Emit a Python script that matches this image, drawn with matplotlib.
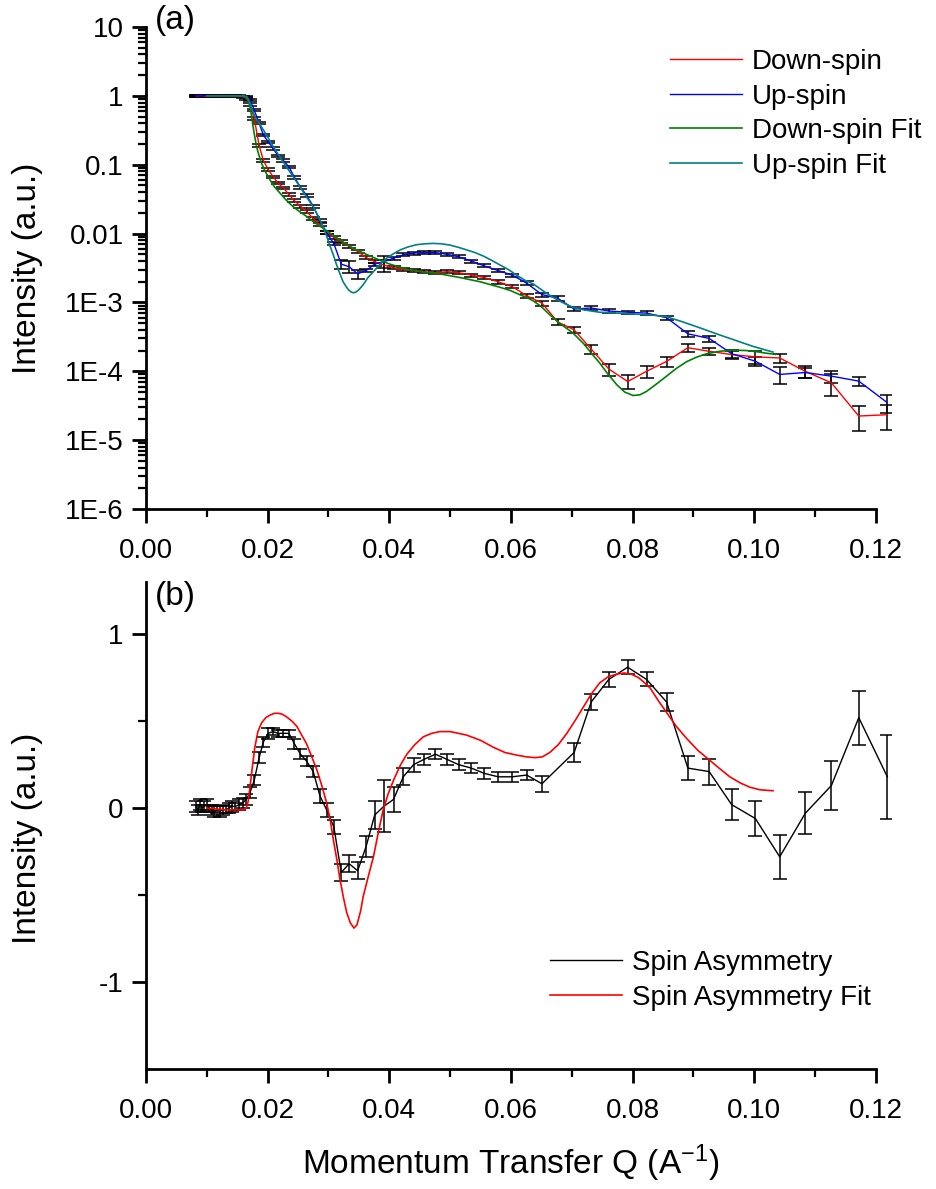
import numpy as np
import matplotlib
matplotlib.use("Agg")
import matplotlib.pyplot as plt
from matplotlib.ticker import FixedLocator, FixedFormatter, LogLocator, NullFormatter
from matplotlib.lines import Line2D

plt.rcParams['font.family'] = ['Liberation Sans', 'DejaVu Sans']
plt.rcParams['mathtext.fontset'] = 'custom'
plt.rcParams['mathtext.rm'] = 'Liberation Sans'
plt.rcParams['mathtext.default'] = 'regular'

# ---------------- data ----------------
# momentum transfer Q (1/A)
q = [0.0082, 0.0085, 0.0089, 0.0092, 0.0096, 0.0100, 0.0104, 0.0108, 0.0112,
     0.0116, 0.0121, 0.0126, 0.0131, 0.0136, 0.0141, 0.0147, 0.0153, 0.0159,
     0.0165, 0.0171, 0.0178, 0.0186, 0.0193, 0.0201, 0.0209, 0.0217, 0.0226, 0.0235,
     0.0244, 0.0254, 0.0264, 0.0275, 0.0286, 0.0297, 0.0309, 0.0321, 0.0334, 0.0348,
     0.0362, 0.0376, 0.0391, 0.0407, 0.0423, 0.0440, 0.0457, 0.0476, 0.0495, 0.0514,
     0.0535, 0.0556, 0.0579, 0.0602, 0.0626, 0.0651, 0.0677, 0.0704, 0.0732, 0.0761,
     0.0792, 0.0823, 0.0856, 0.0891, 0.0926, 0.0963, 0.1002, 0.1042, 0.1084, 0.1127,
     0.1172, 0.1219]

# reflectivity, down-spin
r_down = [1.00, 0.99, 1.00, 1.01, 0.99, 1.00, 1.00, 0.99, 1.01,
          1.00, 0.99, 1.00, 1.00, 0.99, 1.00, 0.99, 0.98, 0.97,
          0.92, 0.75, 0.47, 0.19, 0.115, 0.085, 0.067, 0.054, 0.046, 0.037,
          0.030, 0.025, 0.021, 0.0165, 0.0134, 0.0105, 0.0088, 0.0077, 0.0065, 0.0055,
          0.0045, 0.0039, 0.0035, 0.0032, 0.0030, 0.0029, 0.0028, 0.0027, 0.0028, 0.0027,
          0.0025, 0.0023, 0.0020, 0.0017, 0.00125, 0.00098, 0.00052, 0.00040, 0.00021, 0.000108,
          0.000071, 0.000100, 0.000139, 0.00022, 0.000195, 0.000175, 0.000162, 0.000156, 0.000100, 0.000068,
          0.0000224, 0.0000234]

# reflectivity, up-spin
r_up = [1.00, 1.00, 0.99, 1.00, 1.01, 1.00, 0.99, 1.00, 1.00,
        1.01, 1.00, 0.99, 1.00, 1.00, 1.01, 1.00, 0.99, 0.98,
        0.96, 0.88, 0.62, 0.40, 0.27, 0.215, 0.172, 0.135, 0.115, 0.093,
        0.066, 0.047, 0.036, 0.025, 0.0155, 0.0103, 0.0071, 0.0036, 0.0033, 0.0026,
        0.0029, 0.0036, 0.0039, 0.0044, 0.0049, 0.0052, 0.0053, 0.0053, 0.0050, 0.0046,
        0.0040, 0.0034, 0.0029, 0.0025, 0.0019, 0.0013, 0.00115, 0.00080, 0.00083, 0.00075,
        0.00072, 0.00070, 0.00060, 0.00035, 0.00030, 0.00018, 0.000140, 0.000090, 0.000096, 0.000085,
        0.000072, 0.000035]

# relative uncertainties
rel_err_down = [0.03] * 18 + \
    [0.04] * 10 + \
    [0.05] * 10 + \
    [0.05, 0.05, 0.20, 0.05, 0.05, 0.05, 0.05, 0.05, 0.05, 0.05] + \
    [0.05, 0.05, 0.06, 0.06, 0.07, 0.08, 0.10, 0.10, 0.16, 0.20] + \
    [0.23, 0.20, 0.16, 0.12, 0.12, 0.14, 0.20, 0.15, 0.20, 0.35] + \
    [0.40, 0.40]
rel_err_up = [0.03] * 18 + \
    [0.04] * 10 + \
    [0.05, 0.05, 0.05, 0.05, 0.05, 0.05, 0.05, 0.15, 0.20, 0.15] + \
    [0.05, 0.05, 0.20, 0.05, 0.05, 0.05, 0.05, 0.05, 0.05, 0.05] + \
    [0.05, 0.05, 0.05, 0.05, 0.06, 0.07, 0.08, 0.06, 0.06, 0.06] + \
    [0.06, 0.06, 0.06, 0.10, 0.10, 0.14, 0.15, 0.28, 0.18, 0.20] + \
    [0.15, 0.30]

# fitted reflectivity, down-spin
q_fit_down = [0.0100, 0.0130, 0.0160, 0.0163, 0.0166, 0.0168, 0.0171, 0.0173, 0.0176, 0.0179,
              0.0182, 0.0186, 0.0190, 0.0196, 0.0204, 0.0211, 0.0220, 0.0230, 0.0242, 0.0252,
              0.0264, 0.0277, 0.0291, 0.0305, 0.0319, 0.0332, 0.0346, 0.0360, 0.0374, 0.0388,
              0.0401, 0.0425, 0.0450, 0.0483, 0.0516, 0.0549, 0.0582, 0.0600, 0.0615, 0.0627,
              0.0637, 0.0650, 0.0664, 0.0680, 0.0690, 0.0702, 0.0720, 0.0733, 0.0746, 0.0760,
              0.0774, 0.0787, 0.0801, 0.0812, 0.0823, 0.0840, 0.0856, 0.0872, 0.0889, 0.0905,
              0.0922, 0.0940, 0.0955, 0.0972, 0.0988, 0.1005, 0.1020, 0.1035]
r_fit_down = [1.0, 1.0, 0.99, 0.97, 0.93, 0.85, 0.70, 0.55, 0.36, 0.25,
              0.18, 0.135, 0.105, 0.080, 0.060, 0.048, 0.039, 0.031, 0.0245, 0.021,
              0.0178, 0.0145, 0.012, 0.0098, 0.0081, 0.0068, 0.0058, 0.0051, 0.0045, 0.0040,
              0.0036, 0.0031, 0.0028, 0.0026, 0.0023, 0.0020, 0.00166, 0.00148, 0.00129, 0.00117,
              0.00105, 0.00087, 0.00066, 0.00050, 0.00043, 0.00036, 0.00025, 0.00018, 0.000132, 0.000090,
              0.000064, 0.000050, 0.0000445, 0.0000455, 0.000051, 0.000066, 0.000085, 0.000110, 0.000138, 0.000160,
              0.000180, 0.000193, 0.000200, 0.000202, 0.000200, 0.000192, 0.000183, 0.000176]

# fitted reflectivity, up-spin
q_fit_up = [0.0100, 0.0160, 0.0163, 0.0166, 0.0168, 0.0171, 0.0175, 0.0179, 0.0186, 0.0193,
            0.0201, 0.0209, 0.0220, 0.0231, 0.0242, 0.0253, 0.0264, 0.0275, 0.0283, 0.0291,
            0.0297, 0.0302, 0.0308, 0.0313, 0.0319, 0.0324, 0.0329, 0.0333, 0.0337, 0.0341,
            0.0345, 0.0349, 0.0353, 0.0357, 0.0365, 0.0374, 0.0385, 0.0396, 0.0407, 0.0418,
            0.0431, 0.0445, 0.0458, 0.0472, 0.0486, 0.0500, 0.0514, 0.0527, 0.0541, 0.0555,
            0.0568, 0.0582, 0.0596, 0.0609, 0.0623, 0.0637, 0.0648, 0.0659, 0.0670, 0.0680,
            0.0691, 0.0702, 0.0720, 0.0746, 0.0775, 0.0800, 0.0830, 0.0856, 0.0883, 0.0910,
            0.0938, 0.0965, 0.0998, 0.1031]
r_fit_up = [1.0, 1.0, 0.99, 0.97, 0.90, 0.78, 0.62, 0.50, 0.40, 0.32,
            0.245, 0.185, 0.13, 0.093, 0.067, 0.048, 0.034, 0.0245, 0.018, 0.0126,
            0.0092, 0.0068, 0.0049, 0.0036, 0.0026, 0.0020, 0.0017, 0.00152, 0.00142, 0.00138,
            0.00141, 0.00150, 0.00164, 0.0018, 0.0023, 0.0028, 0.0036, 0.0044, 0.0051, 0.0058,
            0.0064, 0.0069, 0.0071, 0.0072, 0.0071, 0.0068, 0.0063, 0.0058, 0.0053, 0.0047,
            0.0041, 0.0035, 0.0030, 0.0025, 0.0021, 0.00185, 0.00158, 0.00135, 0.00118, 0.00105,
            0.00094, 0.00085, 0.00078, 0.00072, 0.00070, 0.00068, 0.00066, 0.00062, 0.00052, 0.00043,
            0.00035, 0.00029, 0.00023, 0.00019]

# spin asymmetry
q_asym = [v for v in q if v != 0.0677]
asym = [0.01, -0.01, 0.02, 0.00, 0.01, 0.02, 0.00, -0.01, -0.02,
        -0.01, -0.02, -0.01, -0.01, 0.00, 0.01, 0.01, 0.02, 0.03,
        0.05, 0.09, 0.16, 0.29, 0.38, 0.43, 0.44, 0.43, 0.43, 0.43,
        0.37, 0.31, 0.27, 0.21, 0.07, -0.01, -0.11, -0.37, -0.32, -0.36,
        -0.22, -0.04, 0.01, 0.05, 0.18, 0.25, 0.28, 0.31, 0.28, 0.25,
        0.23, 0.20, 0.18, 0.18, 0.19, 0.14, 0.32, 0.61, 0.74,
        0.81, 0.74, 0.61, 0.23, 0.21, 0.02, -0.06, -0.28, -0.03, 0.13,
        0.52, 0.18]
asym_err = [0.03, 0.03, 0.03, 0.02, 0.03, 0.03, 0.02, 0.03, 0.03,
            0.02, 0.03, 0.03, 0.02, 0.03, 0.03, 0.02, 0.03, 0.03,
            0.03, 0.03, 0.03, 0.03, 0.03, 0.03, 0.02, 0.02, 0.02, 0.02,
            0.03, 0.03, 0.03, 0.03, 0.04, 0.04, 0.04, 0.05, 0.05, 0.05,
            0.06, 0.08, 0.15, 0.07, 0.05, 0.04, 0.03, 0.03, 0.03, 0.03,
            0.03, 0.03, 0.03, 0.03, 0.03, 0.045, 0.055, 0.048, 0.043,
            0.04, 0.04, 0.05, 0.07, 0.075, 0.09, 0.10, 0.125, 0.12, 0.14,
            0.155, 0.24]

# fitted spin asymmetry
q_asym_fit = [0.0100, 0.0130, 0.0160, 0.0165, 0.0168, 0.0171, 0.0175, 0.0179, 0.0184, 0.0190,
              0.0197, 0.0204, 0.0211, 0.0218, 0.0224, 0.0231, 0.0240, 0.0248, 0.0256, 0.0264,
              0.0272, 0.0281, 0.0289, 0.0297, 0.0303, 0.0308, 0.0314, 0.0319, 0.0325, 0.0330,
              0.0336, 0.0342, 0.0347, 0.0353, 0.0357, 0.0365, 0.0374, 0.0382, 0.0390, 0.0398,
              0.0407, 0.0418, 0.0429, 0.0442, 0.0456, 0.0470, 0.0483, 0.0500, 0.0527, 0.0550,
              0.0571, 0.0590, 0.0609, 0.0625, 0.0640, 0.0652, 0.0664, 0.0678, 0.0692, 0.0705,
              0.0719, 0.0732, 0.0746, 0.0760, 0.0774, 0.0786, 0.0798, 0.0810, 0.0820, 0.0829,
              0.0842, 0.0856, 0.0872, 0.0889, 0.0908, 0.0927, 0.0944, 0.0960, 0.0977, 0.0993,
              0.1010, 0.1031]
asym_fit = [0.00, -0.01, -0.01, 0.00, 0.04, 0.12, 0.24, 0.35, 0.44, 0.49,
            0.52, 0.535, 0.545, 0.545, 0.54, 0.525, 0.50, 0.47, 0.42, 0.37,
            0.30, 0.22, 0.13, 0.03, -0.07, -0.18, -0.30, -0.41, -0.52, -0.60,
            -0.66, -0.69, -0.67, -0.59, -0.51, -0.40, -0.28, -0.14, -0.01, 0.08,
            0.16, 0.245, 0.31, 0.365, 0.41, 0.43, 0.44, 0.44, 0.42, 0.39,
            0.35, 0.32, 0.305, 0.295, 0.29, 0.295, 0.32, 0.365, 0.43, 0.50,
            0.58, 0.655, 0.72, 0.755, 0.77, 0.777, 0.77, 0.75, 0.72, 0.69,
            0.62, 0.55, 0.47, 0.40, 0.33, 0.275, 0.225, 0.18, 0.145, 0.12,
            0.105, 0.10]

# ---------------- figure ----------------
W, H = 936, 1189
fig = plt.figure(figsize=(W / 100, H / 100), dpi=100)

x0, x1 = 146, 891
ax1 = fig.add_axes([x0 / W, 1 - 509 / H, (x1 - x0) / W, (509 - 27) / H])
ax2 = fig.add_axes([x0 / W, 1 - 1069 / H, (x1 - x0) / W, (1069 - 582) / H])


def style_axes(ax):
    for side in ('top', 'right'):
        ax.spines[side].set_visible(False)
    for side in ('left', 'bottom'):
        ax.spines[side].set_linewidth(2.0)
    ax.spines['bottom'].set_bounds(0, 0.12)
    ax.set_xlim(0, 0.1225)
    ax.xaxis.set_major_locator(FixedLocator([0, 0.02, 0.04, 0.06, 0.08, 0.10, 0.12]))
    ax.xaxis.set_major_formatter(FixedFormatter(['0.00', '0.02', '0.04', '0.06', '0.08', '0.10', '0.12']))
    ax.xaxis.set_minor_locator(FixedLocator([0.01, 0.03, 0.05, 0.07, 0.09, 0.11]))
    ax.tick_params(which='major', direction='out', length=10, width=2.0,
                   labelsize=20, top=False, right=False)
    ax.tick_params(axis='x', which='major', pad=11)
    ax.tick_params(axis='y', which='major', pad=6)
    ax.tick_params(which='minor', direction='out', length=6, width=1.6,
                   top=False, right=False)


cap = 5
elw = 1.1

# panel (a): reflectivity
err_down = [r * e for r, e in zip(r_down, rel_err_down)]
err_up = [r * e for r, e in zip(r_up, rel_err_up)]
ax1.errorbar(q, r_down, yerr=err_down, fmt='none', ecolor='black',
             elinewidth=elw, capsize=cap, capthick=elw, zorder=2)
ax1.errorbar(q, r_up, yerr=err_up, fmt='none', ecolor='black',
             elinewidth=elw, capsize=cap, capthick=elw, zorder=2)
ax1.plot(q, r_down, color='#ff0000', lw=1.0, zorder=3)
ax1.plot(q, r_up, color='#0000ff', lw=1.0, zorder=3)
ax1.plot(q_fit_down, r_fit_down, color='#008000', lw=1.2, zorder=4)
ax1.plot(q_fit_up, r_fit_up, color='#008080', lw=1.2, zorder=4)

ax1.set_yscale('log')
ax1.set_ylim(1e-6, 10)
style_axes(ax1)
yt = [1e-6, 1e-5, 1e-4, 1e-3, 1e-2, 1e-1, 1, 10]
ax1.yaxis.set_major_locator(FixedLocator(yt))
ax1.yaxis.set_major_formatter(FixedFormatter(['1E-6', '1E-5', '1E-4', '1E-3', '0.01', '0.1', '1', '10']))
ax1.yaxis.set_minor_locator(LogLocator(base=10, subs=np.arange(2, 10), numticks=20))
ax1.yaxis.set_minor_formatter(NullFormatter())

leg_handles = [Line2D([], [], color='#ff0000', lw=1.0),
               Line2D([], [], color='#0000ff', lw=1.0),
               Line2D([], [], color='#008000', lw=1.2),
               Line2D([], [], color='#008080', lw=1.2)]
fig.legend(leg_handles, ['Down-spin', 'Up-spin', 'Down-spin Fit', 'Up-spin Fit'],
           loc='upper left', bbox_to_anchor=(670 / W, 1 - 49 / H),
           bbox_transform=fig.transFigure, frameon=False, fontsize=20,
           handlelength=2.6, handletextpad=0.36, labelspacing=0.31,
           borderpad=0, borderaxespad=0)

# panel (b): spin asymmetry
ax2.errorbar(q_asym, asym, yerr=asym_err, fmt='none', ecolor='black',
             elinewidth=elw, capsize=cap, capthick=elw, zorder=2)
ax2.plot(q_asym, asym, color='black', lw=1.0, zorder=3)
ax2.plot(q_asym_fit, asym_fit, color='#ff0000', lw=1.2, zorder=4)
ax2.set_ylim(-1.5, 1.3)
style_axes(ax2)
ax2.yaxis.set_major_locator(FixedLocator([-1, 0, 1]))
ax2.yaxis.set_major_formatter(FixedFormatter(['-1', '0', '1']))
ax2.yaxis.set_minor_locator(FixedLocator([-0.5, 0.5]))

leg2_handles = [Line2D([], [], color='black', lw=1.0),
                Line2D([], [], color='#ff0000', lw=1.2)]
fig.legend(leg2_handles, ['Spin Asymmetry', 'Spin Asymmetry Fit'],
           loc='upper left', bbox_to_anchor=(550 / W, 1 - 950 / H),
           bbox_transform=fig.transFigure, frameon=False, fontsize=20,
           handlelength=2.6, handletextpad=0.36, labelspacing=0.31,
           borderpad=0, borderaxespad=0)

# labels
fig.text(155 / W, 1 - 20 / H, '(a)', fontsize=24, ha='left', va='center')
fig.text(155 / W, 1 - 597 / H, '(b)', fontsize=24, ha='left', va='center')
fig.text(28 / W, 1 - 268 / H, 'Intensity (a.u.)', fontsize=24, rotation=90,
         ha='center', va='center')
fig.text(28 / W, 1 - 838 / H, 'Intensity (a.u.)', fontsize=24, rotation=90,
         ha='center', va='center')
fig.text(511 / W, 1 - 1163 / H, 'Momentum Transfer Q (A$^{-1}$)', fontsize=24,
         ha='center', va='center')

fig.savefig('out.png', dpi=100)
